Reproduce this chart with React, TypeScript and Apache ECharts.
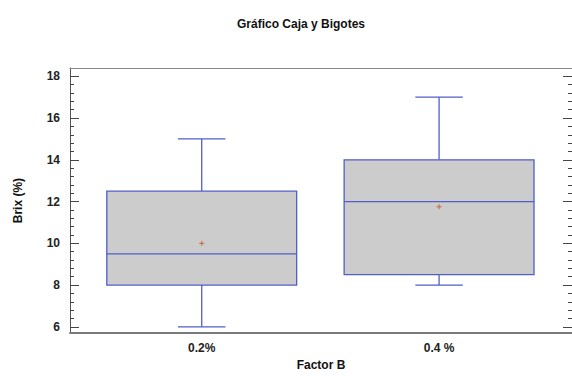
import React, { useEffect, useRef } from "react";
import * as echarts from "echarts";

const categories = ["0.2%", "0.4 %"];
const positions = [1, 2];
const mins = [6, 8];
const q1s = [8, 8.5];
const medians = [9.5, 12];
const q3s = [12.5, 14];
const maxs = [15, 17];
const means = [10, 11.75];
const yMajorTicks = [6, 8, 10, 12, 14, 16, 18];
const yMinorTicks = [
  6.4, 6.8, 7.2, 7.6,
  8.4, 8.8, 9.2, 9.6,
  10.4, 10.8, 11.2, 11.6,
  12.4, 12.8, 13.2, 13.6,
  14.4, 14.8, 15.2, 15.6,
  16.4, 16.8, 17.2, 17.6,
];

const BLUE = "#4f5fc8";
const FONT = "'Liberation Sans', Arial, sans-serif";

export default function App() {
  const ref = useRef<HTMLDivElement>(null);
  useEffect(() => {
    if (!ref.current) return;
    const chart = echarts.init(ref.current, null, { renderer: "svg" });
    const data = positions.map((p, i) => [p, mins[i], q1s[i], medians[i], q3s[i], maxs[i], means[i]]);
    const yCommon = { min: 5.7, max: 18.4, splitLine: { show: false } };
    const xCommon = { type: "value", min: 0.445, max: 2.56, splitLine: { show: false } };
    chart.setOption({
      animation: false,
      backgroundColor: "#ffffff",
      title: {
        text: "Gráfico Caja y Bigotes",
        left: 232,
        top: 13,
        textStyle: { fontFamily: FONT, fontSize: 12, fontWeight: "bold", color: "#111" },
      },
      grid: {
        left: 70,
        right: 0,
        top: 68,
        bottom: 38,
        show: false,
      },
      xAxis: [
        {
          ...xCommon,
          position: "bottom",
          axisLine: { show: true, lineStyle: { color: "#7a7a7a", width: 2 } },
          axisTick: { show: false },
          axisLabel: {
            customValues: positions,
            formatter: (v: number) => categories[positions.indexOf(Math.round(v))] ?? "",
            fontFamily: FONT,
            fontSize: 12,
            fontWeight: "bold",
            color: "#222",
            margin: 9,
          },
          name: "Factor B",
          nameLocation: "middle",
          nameGap: 24,
          nameTextStyle: { fontFamily: FONT, fontSize: 12, fontWeight: "bold", color: "#111" },
        },
        {
          ...xCommon,
          position: "top",
          axisLine: { show: true, lineStyle: { color: "#8a8a8a", width: 1 } },
          axisTick: { show: false },
          axisLabel: { show: false },
        },
      ],
      yAxis: [
        {
          ...yCommon,
          type: "value",
          position: "left",
          axisLine: { show: true, lineStyle: { color: "#555", width: 1 } },
          axisTick: { show: true, inside: true, length: 9, customValues: yMajorTicks, lineStyle: { color: "#444" } },
          axisLabel: {
            customValues: yMajorTicks,
            fontFamily: FONT,
            fontSize: 12,
            fontWeight: "bold",
            color: "#222",
            margin: 10,
          },
          name: "Brix (%)",
          nameLocation: "middle",
          nameRotate: 90,
          nameGap: 46,
          nameTextStyle: { fontFamily: FONT, fontSize: 12, fontWeight: "bold", color: "#111" },
        },
        {
          ...yCommon,
          type: "value",
          position: "left",
          axisLine: { show: false },
          axisTick: { show: true, inside: true, length: 4, customValues: yMinorTicks, lineStyle: { color: "#444" } },
          axisLabel: { show: false },
        },
        {
          ...yCommon,
          type: "value",
          position: "right",
          axisLine: { show: false },
          axisTick: { show: true, inside: true, length: 9, customValues: yMajorTicks, lineStyle: { color: "#444" } },
          axisLabel: { show: false },
        },
        {
          ...yCommon,
          type: "value",
          position: "right",
          axisLine: { show: false },
          axisTick: { show: true, inside: true, length: 4, customValues: yMinorTicks, lineStyle: { color: "#444" } },
          axisLabel: { show: false },
        },
      ],
      series: [
        {
          type: "custom",
          xAxisIndex: 0,
          yAxisIndex: 0,
          data,
          renderItem: (params: any, api: any) => {
            const x = api.value(0);
            const pt = (v: number) => api.coord([x, v]);
            const cx = pt(0)[0];
            const half = api.size([0.4, 0])[0];
            const capHalf = api.size([0.1, 0])[0];
            const yMin = pt(api.value(1))[1];
            const yQ1 = pt(api.value(2))[1];
            const yMed = pt(api.value(3))[1];
            const yQ3 = pt(api.value(4))[1];
            const yMax = pt(api.value(5))[1];
            const yMean = pt(api.value(6))[1];
            const ls = { stroke: BLUE, lineWidth: 1.3 };
            return {
              type: "group",
              children: [
                { type: "line", shape: { x1: cx, y1: yQ3, x2: cx, y2: yMax }, style: ls },
                { type: "line", shape: { x1: cx - capHalf, y1: yMax, x2: cx + capHalf, y2: yMax }, style: ls },
                { type: "line", shape: { x1: cx, y1: yQ1, x2: cx, y2: yMin }, style: ls },
                { type: "line", shape: { x1: cx - capHalf, y1: yMin, x2: cx + capHalf, y2: yMin }, style: ls },
                {
                  type: "rect",
                  shape: { x: cx - half, y: yQ3, width: half * 2, height: yQ1 - yQ3 },
                  style: { fill: "#cccccc", stroke: BLUE, lineWidth: 1.3 },
                },
                { type: "line", shape: { x1: cx - half, y1: yMed, x2: cx + half, y2: yMed }, style: ls },
                { type: "line", shape: { x1: cx - 2.5, y1: yMean, x2: cx + 2.5, y2: yMean }, style: { stroke: "#c8683a", lineWidth: 1 } },
                { type: "line", shape: { x1: cx, y1: yMean - 2.5, x2: cx, y2: yMean + 2.5 }, style: { stroke: "#c8683a", lineWidth: 1 } },
              ],
            };
          },
        },
      ],
    });
    return () => chart.dispose();
  }, []);
  return <div ref={ref} style={{ position: "fixed", left: 0, top: 0, width: 572, height: 376 }} />;
}
